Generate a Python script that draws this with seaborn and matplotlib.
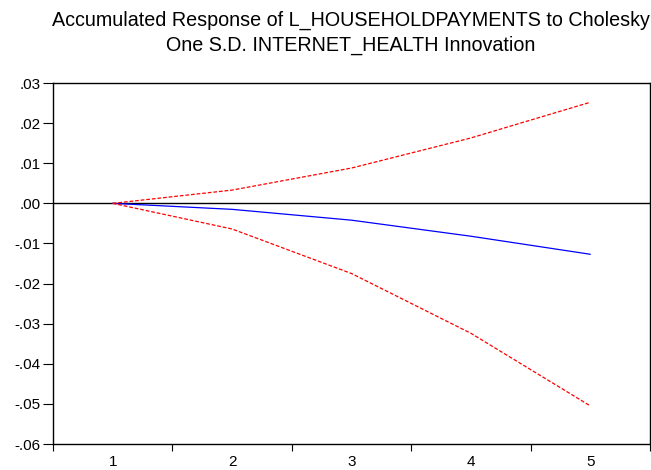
import seaborn as sns
import matplotlib.pyplot as plt
import pandas as pd

# Accumulated impulse response and +/- 2 S.E. bands
periods = [1, 2, 3, 4, 5]
response = [0.0, -0.0015, -0.0042, -0.0082, -0.0127]
upper_band = [0.0, 0.0033, 0.0088, 0.0163, 0.0252]
lower_band = [0.0, -0.0064, -0.0175, -0.0324, -0.0505]
y_ticks = [0.03, 0.02, 0.01, 0.0, -0.01, -0.02, -0.03, -0.04, -0.05, -0.06]
y_labels = [".03", ".02", ".01", ".00", "-.01", "-.02", "-.03", "-.04", "-.05", "-.06"]

df = pd.DataFrame({"Period": periods, "Response": response,
                   "Upper": upper_band, "Lower": lower_band})

sns.set_style("white")
plt.rcParams["font.family"] = ["Liberation Sans", "DejaVu Sans"]
plt.rcParams["text.color"] = "black"
plt.rcParams["xtick.color"] = "black"
plt.rcParams["ytick.color"] = "black"

fig = plt.figure(figsize=(6.51, 4.70), dpi=100)
ax = fig.add_axes([53 / 651, 1 - 444 / 470, 597 / 651, 361 / 470])

ax.axhline(0, color="black", lw=1.0, zorder=1)
sns.lineplot(data=df, x="Period", y="Response", color="blue", lw=0.9, ax=ax)
sns.lineplot(data=df, x="Period", y="Upper", color="red", lw=0.9, ax=ax,
             linestyle=(0, (3, 1.5)))
sns.lineplot(data=df, x="Period", y="Lower", color="red", lw=0.9, ax=ax,
             linestyle=(0, (3, 1.5)))

ax.set_xlim(0.5, 5.5)
ax.set_ylim(-0.06, 0.03)
ax.set_xticks([p + 0.5 for p in [0] + periods])
ax.set_xticklabels([])
ax.set_xticks(periods, minor=True)
ax.set_xticklabels([str(p) for p in periods], minor=True)
ax.tick_params(axis="x", which="major", bottom=True, direction="out", length=5,
               width=0.8, color="black")
ax.tick_params(axis="x", which="minor", bottom=False, length=0, labelsize=11, pad=8)
ax.set_yticks(y_ticks)
ax.set_yticklabels(y_labels)
ax.tick_params(axis="y", left=True, direction="out", length=7, width=0.8,
               labelsize=11, pad=2, color="black")
ax.set_xlabel("")
ax.set_ylabel("")
for s in ax.spines.values():
    s.set_color("black")
    s.set_linewidth(1.0)

title_x = 351 / 651
fig.text(title_x, 1 - 20 / 470, "Accumulated Response of L_HOUSEHOLDPAYMENTS to Cholesky",
         ha="center", va="center", fontsize=14.2)
fig.text(title_x, 1 - 45 / 470, "One S.D. INTERNET_HEALTH Innovation",
         ha="center", va="center", fontsize=14.2)

fig.savefig("out.png", dpi=100)
